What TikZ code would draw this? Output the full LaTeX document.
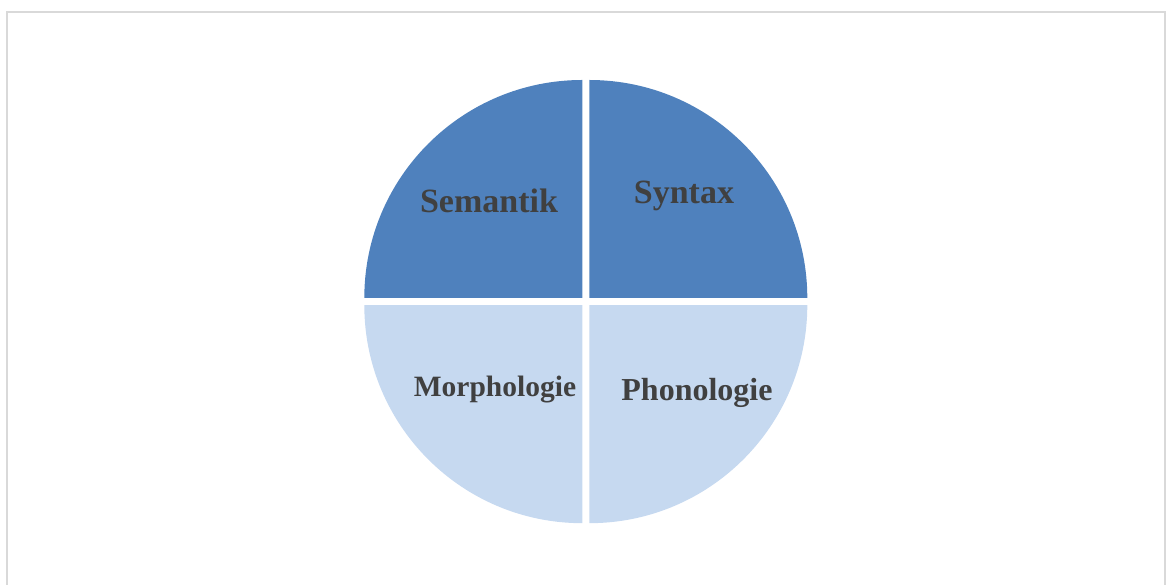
\documentclass[tikz,border=0pt]{standalone}
\usepackage{fontspec}
\setmainfont{Liberation Serif}
\usepackage{tikz}
\definecolor{dunkelblau}{HTML}{4F81BD}
\definecolor{hellblau}{HTML}{C6D9F0}
\definecolor{schrift}{HTML}{404040}
\newcommand{\rad}{218pt}

\begin{document}
\begin{tikzpicture}[x=1pt,y=1pt,
  feld/.style={font=\bfseries,text=schrift,inner sep=0pt}]

\useasboundingbox (0,0) rectangle (1168,585);
\draw[line width=2pt,color=black!15] (7,-13) -- (7,573) -- (1165,573) -- (1165,-13);

% vier Viertel
\fill[dunkelblau] (582.3,287) -- ++(-218,0) arc[start angle=180,end angle=90,radius=\rad] -- cycle;
\fill[dunkelblau] (589.3,287) -- ++(0,218) arc[start angle=90,end angle=0,radius=\rad] -- cycle;
\fill[hellblau] (582.3,279.8) -- ++(-218,0) arc[start angle=180,end angle=270,radius=\rad] -- cycle;
\fill[hellblau] (589.3,279.8) -- ++(218,0) arc[start angle=0,end angle=-90,radius=\rad] -- cycle;

\node[feld,font=\fontsize{34}{40}\bfseries] (sem) at (489,384) {Semantik};
\node[feld,font=\fontsize{34}{40}\bfseries] (syn) at (684,389) {Syntax};
\node[feld,font=\fontsize{29.5}{35}\bfseries] (mor) at (495,195) {Morphologie};
\node[feld,font=\fontsize{32}{38}\bfseries] (pho) at (697,192) {Phonologie};

\end{tikzpicture}
\end{document}
